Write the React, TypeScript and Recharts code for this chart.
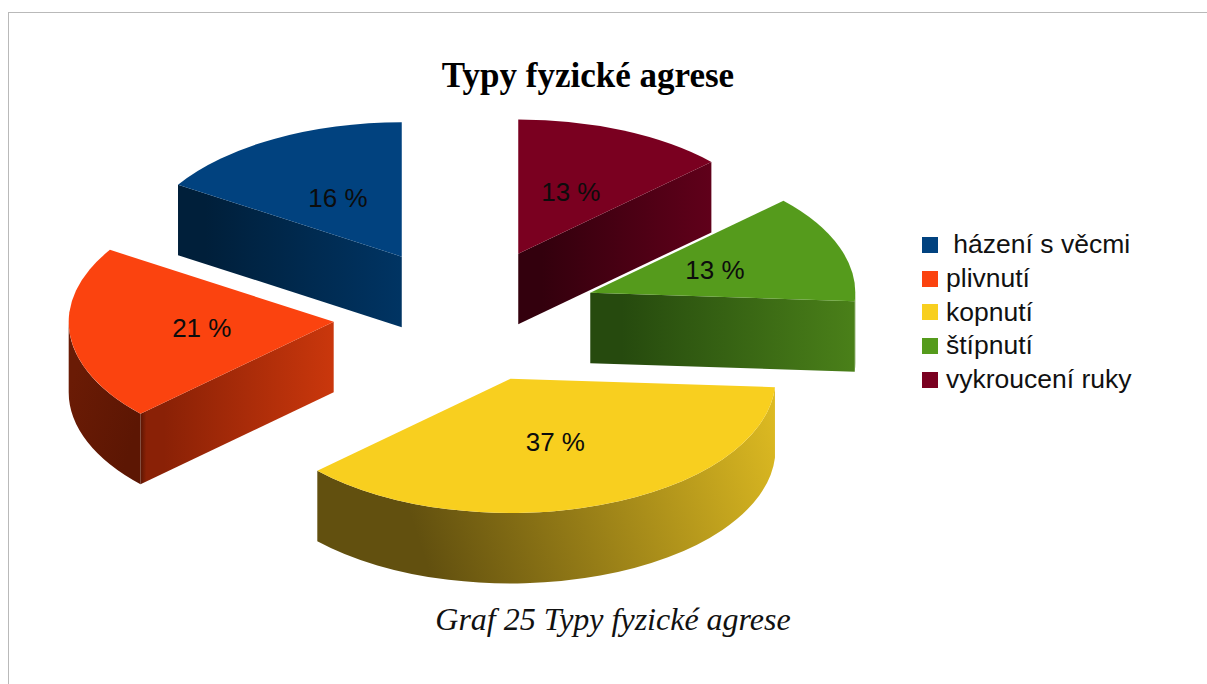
import { Legend, Pie, PieChart } from "recharts"

const categories = [" házení s věcmi", "plivnutí", "kopnutí", "štípnutí", "vykroucení ruky"]
const percents = [16, 21, 37, 13, 13]
const colors = ["#01427f", "#fb430f", "#f8cf1f", "#559b1c", "#7a0020"]

const pieData = categories.map((name, i) => ({ name, value: percents[i], fill: colors[i] }))

// side shading per slice colour, both running left -> right
const sideTones: Record<string, { wall: [string, string]; rim: [string, string] }> = {
  "#01427f": { wall: ["#001f3a", "#003463"], rim: ["#001f3a", "#001f3a"] },
  "#fb430f": { wall: ["#8a2106", "#ca370c"], rim: ["#6a1b05", "#5c1603"] },
  "#f8cf1f": { wall: ["#62500f", "#62500f"], rim: ["#62500f", "#dfbc22"] },
  "#559b1c": { wall: ["#264a0e", "#4a8019"], rim: ["#4a8019", "#4a8019"] },
  "#7a0020": { wall: ["#33000d", "#60001a"], rim: ["#60001a", "#60001a"] },
}

const SQUASH = 0.507 // vertical flattening of the pie disc
const DEPTH = 70.5 // slice thickness in px
const EXPLODE = 0.5 // slice offset as a share of the radius
const RAD = Math.PI / 180

function Slice3D(props: any) {
  const { cx, cy, outerRadius: r, startAngle, endAngle, midAngle, fill } = props
  const tones = sideTones[fill]
  const uid = Math.round(startAngle)

  const ox = cx + EXPLODE * r * Math.cos(midAngle * RAD)
  const oy = cy - EXPLODE * r * SQUASH * Math.sin(midAngle * RAD)
  const at = (deg: number, dz = 0) => ({
    x: ox + r * Math.cos(deg * RAD),
    y: oy - r * SQUASH * Math.sin(deg * RAD) + dz,
  })

  const s = at(startAngle)
  const e = at(endAngle)
  const large = endAngle - startAngle > 180 ? 1 : 0
  const arc = `${r} ${r * SQUASH} 0`
  const top = `M${ox} ${oy} L${s.x} ${s.y} A${arc} ${large} 0 ${e.x} ${e.y} Z`

  // the cut wall is only seen when it faces the viewer
  const walls: { outer: { x: number; y: number } }[] = []
  if (Math.sin((startAngle - 90) * RAD) < -0.001) walls.push({ outer: s })
  if (Math.sin((endAngle + 90) * RAD) < -0.001) walls.push({ outer: e })

  // the rim is the part of the arc on the front half of the disc
  const rimFrom = Math.max(startAngle, 180)
  const rimTo = Math.min(endAngle, 360)
  const hasRim = rimTo > rimFrom
  const r0 = at(rimFrom)
  const r1 = at(rimTo)
  const r0b = at(rimFrom, DEPTH)
  const r1b = at(rimTo, DEPTH)

  return (
    <g>
      <defs>
        <linearGradient id={`rim-${uid}`} gradientUnits="userSpaceOnUse" x1={r0b.x} y1={r0b.y} x2={r1.x} y2={r1.y}>
          <stop offset="0" stopColor={tones.rim[0]} />
          <stop offset={rimTo - rimFrom > 90 ? "0.2" : "0"} stopColor={tones.rim[0]} />
          <stop offset="1" stopColor={tones.rim[1]} />
        </linearGradient>
        {walls.map((w, i) => {
          const left = Math.min(w.outer.x, ox)
          const right = Math.max(w.outer.x, ox)
          // soft seam where the rim meets a wall on its left side
          const seam = hasRim && w.outer.x < ox
          return (
            <linearGradient key={i} id={`wall-${uid}-${i}`} gradientUnits="userSpaceOnUse" x1={left} y1={0} x2={right} y2={0}>
              <stop offset="0" stopColor={seam ? tones.rim[1] : tones.wall[0]} />
              <stop offset="0.03" stopColor={tones.wall[0]} />
              <stop offset="0.12" stopColor={tones.wall[0]} />
              <stop offset="1" stopColor={tones.wall[1]} />
            </linearGradient>
          )
        })}
      </defs>
      {hasRim && (
        <path
          d={`M${r0.x} ${r0.y} A${arc} 0 0 ${r1.x} ${r1.y} L${r1b.x} ${r1b.y} A${arc} 0 1 ${r0b.x} ${r0b.y} Z`}
          fill={`url(#rim-${uid})`}
        />
      )}
      {walls.map((w, i) => (
        <path
          key={i}
          d={`M${ox} ${oy} L${w.outer.x} ${w.outer.y} L${w.outer.x} ${w.outer.y + DEPTH} L${ox} ${oy + DEPTH} Z`}
          fill={`url(#wall-${uid}-${i})`}
        />
      ))}
      <path d={top} fill={fill} />
    </g>
  )
}

// the percent sits halfway along the exploded slice, which lands on the base radius
function PercentLabel(props: any) {
  const { cx, cy, outerRadius: r, midAngle, value } = props
  return (
    <text
      x={cx + r * Math.cos(midAngle * RAD)}
      y={cy - r * SQUASH * Math.sin(midAngle * RAD)}
      textAnchor="middle"
      dominantBaseline="central"
      fontFamily="Liberation Sans"
      fontSize={26}
      fill="#0c0c0c"
    >
      {`${value} %`}
    </text>
  )
}

function LegendList({ payload }: any) {
  return (
    <div style={{ fontFamily: "Liberation Sans", fontSize: 26.5, color: "#111" }}>
      {(payload ?? []).map((item: any) => (
        <div key={item.value} style={{ display: "flex", alignItems: "center", height: 33.7, whiteSpace: "pre" }}>
          <span style={{ width: 16, height: 16, background: item.color, marginRight: 8, flex: "none" }} />
          {item.value}
        </div>
      ))}
    </div>
  )
}

export default function App() {
  return (
    <div style={{ position: "absolute", left: 0, top: 0, width: 1207, height: 684, overflow: "hidden", background: "#fff" }}>
      <div style={{ position: "absolute", left: 8, top: 12, right: 0, bottom: 0, borderTop: "1.5px solid #b9b9b9", borderLeft: "1.5px solid #b9b9b9" }} />
      <PieChart width={1207} height={684} margin={{ top: 0, right: 0, bottom: 0, left: 0 }}>
        <text x={588} y={87} textAnchor="middle" fontFamily="Liberation Serif" fontWeight="bold" fontSize={35} fill="#000">
          Typy fyzické agrese
        </text>
        <text x={613} y={630} textAnchor="middle" fontFamily="Liberation Serif" fontStyle="italic" fontSize={32} fill="#111">
          Graf 25 Typy fyzické agrese
        </text>
        <Pie
          data={pieData}
          dataKey="value"
          nameKey="name"
          cx={465.6}
          cy={315.5}
          outerRadius={265}
          startAngle={90}
          endAngle={450}
          stroke="none"
          shape={Slice3D}
          inactiveShape={Slice3D}
          label={PercentLabel}
          labelLine={false}
          isAnimationActive={false}
        />
        <Legend
          layout="vertical"
          align="right"
          verticalAlign="top"
          itemSorter={null}
          content={LegendList}
          wrapperStyle={{ left: 922, top: 228, width: 280 }}
        />
      </PieChart>
    </div>
  )
}
